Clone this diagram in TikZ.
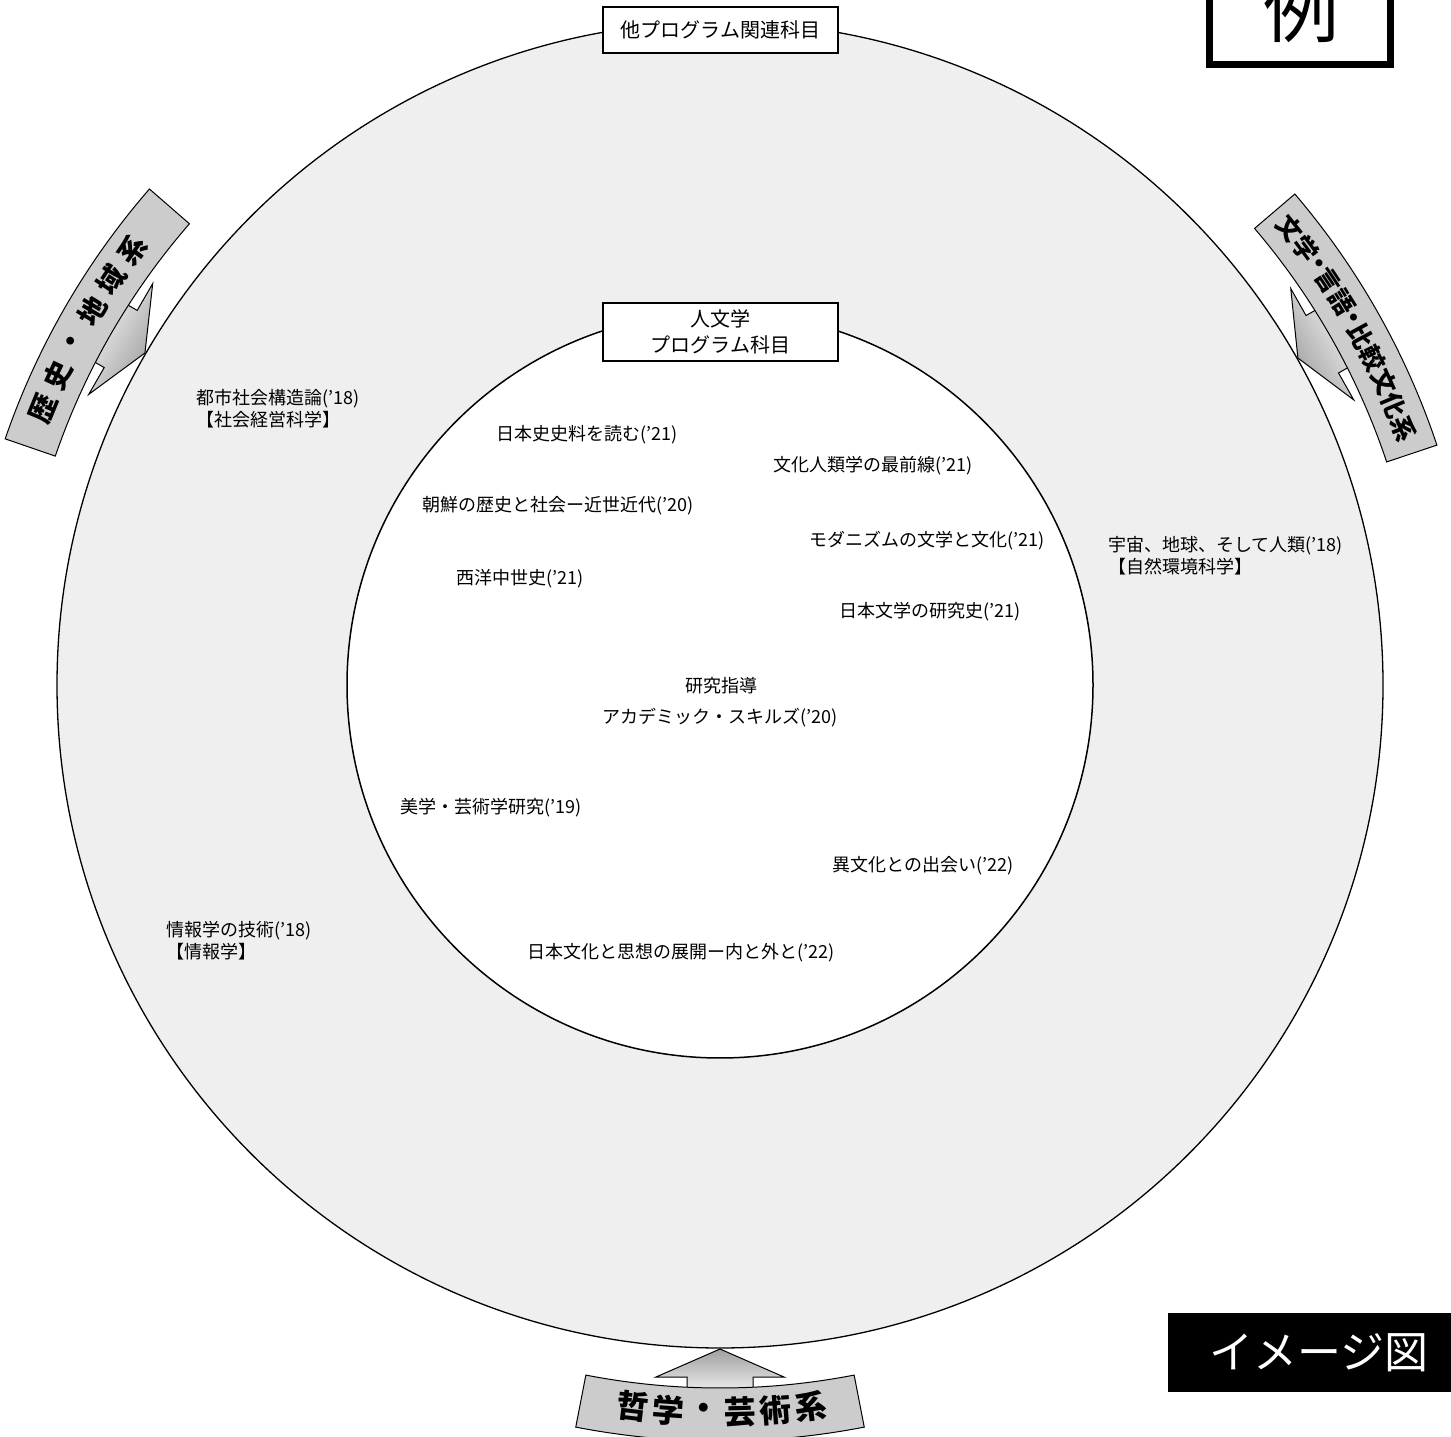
\documentclass[tikz,border=0pt]{standalone}
\usepackage{fontspec}
\setmainfont{Noto Sans CJK JP}

\definecolor{ringgray}{HTML}{EFEFEF}
\definecolor{bandgray}{HTML}{CCCCCC}

\tikzset{
  lbl/.style={anchor=west, inner sep=0pt, align=left, font=\fontsize{18}{22}\selectfont},
  titlebox/.style={draw, line width=2.5pt, fill=white, minimum width=235pt, inner sep=0pt,
    align=center, font=\fontsize{20}{26}\selectfont},
  band/.style={draw, line width=1pt, fill=bandgray},
  pointer/.style={draw, line width=1pt, top color=gray!75, bottom color=gray!6},
  bandchar/.style={inner sep=0pt, font=\bfseries\fontsize{#1}{#1}\selectfont},
}

\begin{document}
\begin{tikzpicture}[x=1pt, y=1pt]
\useasboundingbox (0,0) rectangle (1451,1436);
\clip (0,0) rectangle (1451,1436);
\coordinate (C) at (720,751);

% rings
\draw [line width=1.3pt, fill=ringgray] (C) circle [radius=663];
\draw [line width=1.5pt, fill=white] (C) circle [radius=373];

% arrows into the ring
\foreach \t/\s in {150/240, 29.5/119.5, 270/0}
  \path [pointer, shading angle=\s, shift={(C)}, rotate=\t]
    (664,0) -- (692,64) -- (692,33) -- (712,33) -- (712,-33) -- (692,-33) -- (692,-64) -- cycle;

% bands
\foreach \a/\b in {139/161, 18.5/40.5, 259/281}
  \draw [band] ([shift={(C)}]\a:703) arc [start angle=\a, end angle=\b, radius=703]
    -- ([shift={(C)}]\b:756) arc [start angle=\b, end angle=\a, radius=756] -- cycle;

\foreach \a/\c [count=\i] in {157.8/歴, 154.94/史, 152.08/・, 149.22/地, 146.36/域, 143.5/系}
  \node [bandchar=28, rotate=\a-90] (hist\i) at ([shift={(C)}]\a:731) {\c};
\foreach \a/\c [count=\i] in {38.7/文, 36.68/学, 35.16/・, 33.64/言, 31.61/語, 30.10/・,
    28.58/比, 26.56/較, 24.54/文, 22.52/化, 20.5/系}
  \node [bandchar=25, rotate=\a-90] (lit\i) at ([shift={(C)}]\a:730) {\c};
\foreach \a/\c [count=\i] in {263.1/哲, 265.92/学, 268.74/・, 271.56/芸, 274.38/術, 277.2/系}
  \node [bandchar=32, rotate=\a+90] (phil\i) at ([shift={(C)}]\a:727) {\c};

% headings
\node [titlebox, minimum height=46pt] (other) at (720.5,1406) {他プログラム関連科目};
\node [titlebox, minimum height=58pt] (human) at (720.5,1104) {人文学\\プログラム科目};

% outer ring subjects
\node [lbl] (toshi) at (196,1027) {都市社会構造論('18)\\【社会経営科学】};
\node [lbl] (uchu) at (1108,880) {宇宙、地球、そして人類('18)\\【自然環境科学】};
\node [lbl] (joho) at (166,495.5) {情報学の技術('18)\\【情報学】};

% inner subjects
\node [lbl] (nihonshi) at (496,1001) {日本史史料を読む('21)};
\node [lbl] (bunjin) at (773,970) {文化人類学の最前線('21)};
\node [lbl] (chosen) at (422,930) {朝鮮の歴史と社会ー近世近代('20)};
\node [lbl] (modern) at (809,895) {モダニズムの文学と文化('21)};
\node [lbl] (seiyo) at (456,857) {西洋中世史('21)};
\node [lbl] (nihonbun) at (839,824) {日本文学の研究史('21)};
\node [lbl, anchor=center] (shido) at (721,750) {研究指導};
\node [lbl, anchor=center] (academic) at (720,718) {アカデミック・スキルズ('20)};
\node [lbl] (bigaku) at (400,628) {美学・芸術学研究('19)};
\node [lbl] (ibunka) at (832,570) {異文化との出会い('22)};
\node [lbl] (nihonbunka) at (527,483) {日本文化と思想の展開ー内と外と('22)};

% corner marks
\draw [line width=7.5pt] (1209.5,1480) rectangle (1390.5,1371.5);
\node [inner sep=0pt, font=\fontsize{76}{76}\selectfont] (rei) at (1301,1428) {例};
\fill (1168,44) rectangle (1460,123);
\node [inner sep=0pt, text=white, font=\fontsize{44}{44}\selectfont] (image) at (1319,83) {イメージ図};
\end{tikzpicture}
\end{document}
